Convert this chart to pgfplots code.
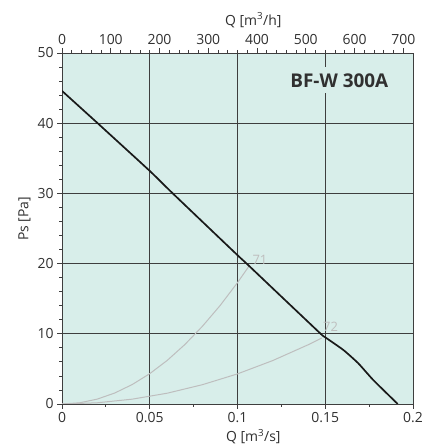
\documentclass[border=0pt]{standalone}
\usepackage{fontspec}
\setmainfont{Open Sans}
\usepackage{pgfplots}
\pgfplotsset{compat=1.18}
\definecolor{bgc}{HTML}{D8EEEA}
\definecolor{gridc}{HTML}{3E3E3E}
\definecolor{txt}{HTML}{303030}
\definecolor{sysc}{HTML}{BEBEBE}
\definecolor{codec}{HTML}{7A7A7A}

\pgfplotstableread{
q ps
0 44.6
0.0203 40
0.05 33.2
0.0631 30
0.1 21.2
0.1052 20
0.125 15.3
0.1474 10
0.15 9.5
0.1603 7.7
0.1688 5.8
0.1774 3.4
0.1913 0
}\fancurve

\pgfplotstableread{
q ps
0 0
0.01 0.17
0.02 0.69
0.03 1.56
0.04 2.77
0.05 4.32
0.06 6.22
0.07 8.47
0.08 11.07
0.09 14.0
0.1 17.29
0.107 19.8
}\sysone

\pgfplotstableread{
q ps
0 0
0.02 0.17
0.04 0.69
0.06 1.54
0.08 2.75
0.1 4.29
0.12 6.18
0.14 8.41
0.148 9.4
}\systwo

\begin{document}
\begin{tikzpicture}
\pgfplotsset{every axis/.append style={
  font=\fontsize{14}{16}\selectfont,
  /pgf/number format/assume math mode=true,
  scale only axis, width=351bp, height=351bp,
  tick align=outside,
  major tick length=5bp, minor tick length=3bp,
  tick style={gridc, line width=0.8bp},
  axis line style={gridc, line width=0.9bp},
  tick label style={text=txt},
  label style={text=txt},
}}
\begin{axis}[
  xmin=0, xmax=0.2, ymin=0, ymax=50,
  axis background/.style={fill=bgc},
  xtick={0,0.05,0.1,0.15,0.2},
  xticklabels={0,0.05,0.1,0.15,0.2},
  minor x tick num=1,
  ytick={0,10,20,30,40,50},
  minor y tick num=4,
  xtick pos=bottom, ytick pos=left,
  grid=major,
  major grid style={gridc, line width=0.9bp},
  xlabel={Q [m\textsuperscript{3}/s]},
  ylabel={Ps [Pa]},
  xlabel style={at={(ticklabel cs:0.545)}},
  ylabel style={at={(ticklabel cs:0.536)}, xshift=-3bp},
]
\addplot[sysc, line width=1bp] table[x=q,y=ps] {\sysone};
\addplot[sysc, line width=1bp] table[x=q,y=ps] {\systwo};
\addplot[black!90, line width=1.7bp, smooth, tension=0.3] table[x=q,y=ps] {\fancurve};
\node[text=sysc, font=\fontsize{13}{15}\selectfont] at (axis cs:0.1128,20.6) {71};
\node[text=sysc, font=\fontsize{13}{15}\selectfont] at (axis cs:0.153,11.0) {72};
\node[fill=bgc, inner xsep=3bp, inner ysep=6bp, text=txt, font=\fontsize{19}{22}\selectfont\bfseries] at (axis cs:0.158,46.1) {BF-W 300A};
\node[rotate=90, anchor=north east, text=codec, font=\fontsize{8.5}{10}\selectfont, inner sep=0pt] at ([xshift=3bp,yshift=-2bp]rel axis cs:1,1) {8633/8634};
\end{axis}
\begin{axis}[
  xmin=0, xmax=720, ymin=0, ymax=50,
  axis x line*=top, axis y line=none,
  xtick={0,100,200,300,400,500,600,700},
  minor x tick num=4,
  xlabel={Q [m\textsuperscript{3}/h]},
  xlabel style={at={(ticklabel cs:0.545)}},
]
\end{axis}
\path ([xshift=-62bp,yshift=-44bp]current axis.south west) rectangle ([xshift=13bp,yshift=53bp]current axis.north east);
\end{tikzpicture}
\end{document}
